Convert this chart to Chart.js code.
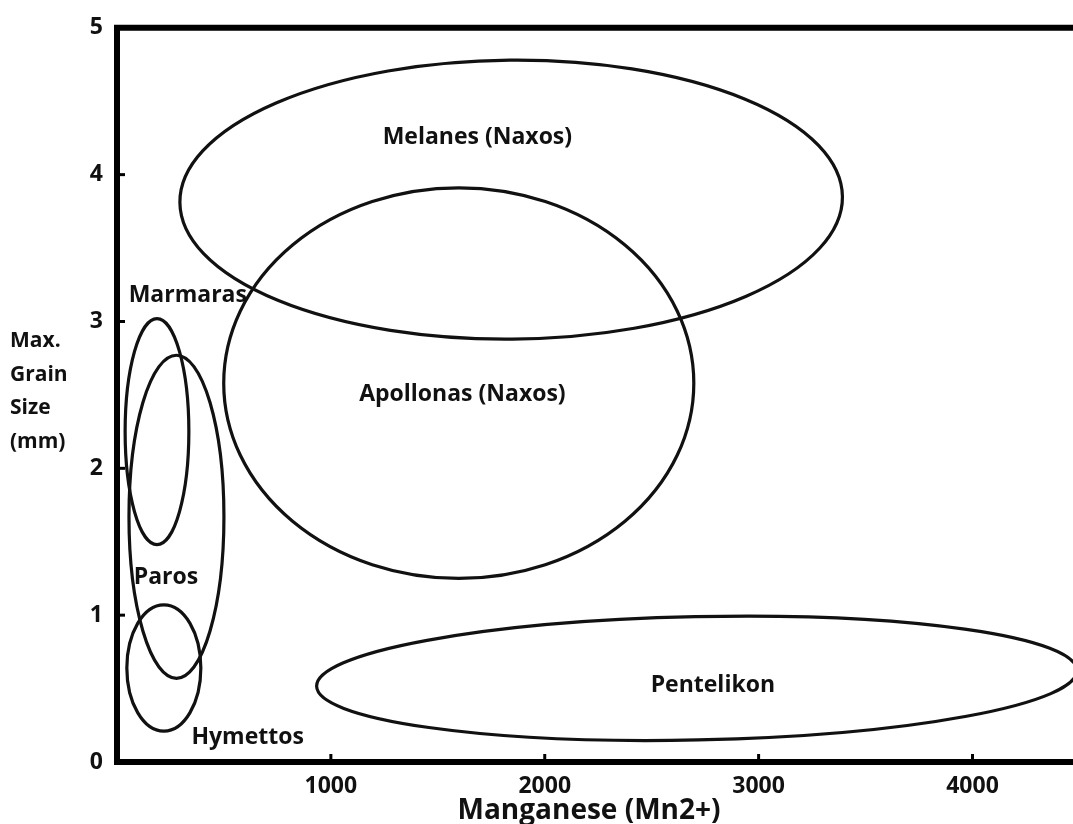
<!DOCTYPE html>
<html lang="en">

<head>
    <meta charset="UTF-8">
    <title>Max. Grain Size vs Manganese</title>
    <script src="https://cdn.jsdelivr.net/npm/chart.js"></script>
    <style>
        html, body { margin: 0; padding: 0; background: #fff; }
        #wrap { position: relative; width: 1073px; height: 824px; }
    </style>
</head>

<body>
    <div id="wrap">
        <canvas id="marbleChart" width="1073" height="824"></canvas>
    </div>

    <script>
        // marble quarries, ellipse centre and half-axes in data units
        const quarries = ['Melanes (Naxos)', 'Apollonas (Naxos)', 'Marmaras', 'Paros', 'Hymettos', 'Pentelikon'];
        const centerMn = [1843, 1598, 187, 278, 219, 2711];
        const centerGrain = [3.83, 2.58, 2.25, 1.67, 0.64, 0.57];
        const radiusMn = [1549, 1099, 149, 222, 173, 1778];
        const radiusGrain = [0.95, 1.33, 0.77, 1.10, 0.43, 0.42];
        const tiltDeg = [-0.5, 0, 0, 0, 0, -1.2];
        // where the names sit
        const labelMn = [1685, 1615, 331, 229, 611, 2786];
        const labelGrain = [4.25, 2.50, 3.18, 1.26, 0.17, 0.52];

        const xTicks = [1000, 2000, 3000, 4000];
        const yTicks = [0, 1, 2, 3, 4, 5];
        const xMin = 0, xMax = 4470, yMin = 0, yMax = 5;

        const FONT = '"Open Sans", "DejaVu Sans", sans-serif';

        const ellipsePlugin = {
            id: 'ellipses',
            afterDatasetsDraw(chart) {
                const ctx = chart.ctx;
                const xs = chart.scales.x, ys = chart.scales.y;
                const area = chart.chartArea;
                ctx.save();
                ctx.strokeStyle = '#111';
                ctx.lineWidth = 3.2;
                quarries.forEach((q, i) => {
                    const cx = xs.getPixelForValue(centerMn[i]);
                    const cy = ys.getPixelForValue(centerGrain[i]);
                    const rx = Math.abs(xs.getPixelForValue(centerMn[i] + radiusMn[i]) - cx);
                    const ry = Math.abs(ys.getPixelForValue(centerGrain[i] + radiusGrain[i]) - cy);
                    ctx.beginPath();
                    ctx.ellipse(cx, cy, rx, ry, tiltDeg[i] * Math.PI / 180, 0, Math.PI * 2);
                    ctx.stroke();
                });
                ctx.fillStyle = '#111';
                ctx.font = 'bold 23px ' + FONT;
                ctx.textAlign = 'center';
                ctx.textBaseline = 'middle';
                quarries.forEach((q, i) => {
                    ctx.fillText(q, xs.getPixelForValue(labelMn[i]), ys.getPixelForValue(labelGrain[i]));
                });

                // frame: left, top, bottom (right side runs off the picture)
                ctx.lineWidth = 6;
                ctx.strokeStyle = '#000';
                ctx.beginPath();
                ctx.moveTo(chart.width, area.top);
                ctx.lineTo(area.left, area.top);
                ctx.lineTo(area.left, area.bottom);
                ctx.lineTo(chart.width, area.bottom);
                ctx.stroke();

                // small inward tick marks
                ctx.lineWidth = 3;
                xTicks.forEach(v => {
                    const px = xs.getPixelForValue(v);
                    ctx.beginPath();
                    ctx.moveTo(px, area.bottom);
                    ctx.lineTo(px, area.bottom - 8);
                    ctx.stroke();
                });
                yTicks.slice(1, 5).forEach(v => {
                    const py = ys.getPixelForValue(v);
                    ctx.beginPath();
                    ctx.moveTo(area.left, py);
                    ctx.lineTo(area.left + 8, py);
                    ctx.stroke();
                });

                // axis titles
                ctx.font = 'bold 21px ' + FONT;
                ctx.textAlign = 'left';
                ctx.textBaseline = 'alphabetic';
                ['Max.', 'Grain', 'Size', '(mm)'].forEach((t, k) => {
                    ctx.fillText(t, 10, 347 + k * 33.7);
                });
                ctx.textAlign = 'center';
                ctx.font = 'bold 28px ' + FONT;
                ctx.fillText('Manganese (Mn2+)', 589, 819);
                ctx.restore();
            }
        };

        new Chart(document.getElementById('marbleChart'), {
            type: 'scatter',
            data: { datasets: [{ data: [], showLine: false }] },
            options: {
                responsive: false,
                animation: false,
                events: [],
                layout: { padding: { top: 22, right: 0, left: 0, bottom: 0 } },
                plugins: { legend: { display: false }, tooltip: { enabled: false } },
                scales: {
                    x: {
                        type: 'linear', min: xMin, max: xMax,
                        afterFit: s => { s.height = 62; },
                        afterBuildTicks: s => { s.ticks = xTicks.map(v => ({ value: v })); },
                        grid: { display: false, drawTicks: false },
                        border: { display: false },
                        ticks: {
                            padding: 11, color: '#111',
                            font: { family: FONT, size: 23, weight: 'bold' },
                            callback: v => String(v)
                        }
                    },
                    y: {
                        type: 'linear', min: yMin, max: yMax,
                        afterFit: s => { s.width = 117; },
                        afterBuildTicks: s => { s.ticks = yTicks.map(v => ({ value: v })); },
                        grid: { display: false, drawTicks: false },
                        border: { display: false },
                        ticks: {
                            padding: 14, color: '#111',
                            font: { family: FONT, size: 23, weight: 'bold' },
                            callback: v => String(v)
                        }
                    }
                }
            },
            plugins: [ellipsePlugin]
        });
    </script>
</body>

</html>
